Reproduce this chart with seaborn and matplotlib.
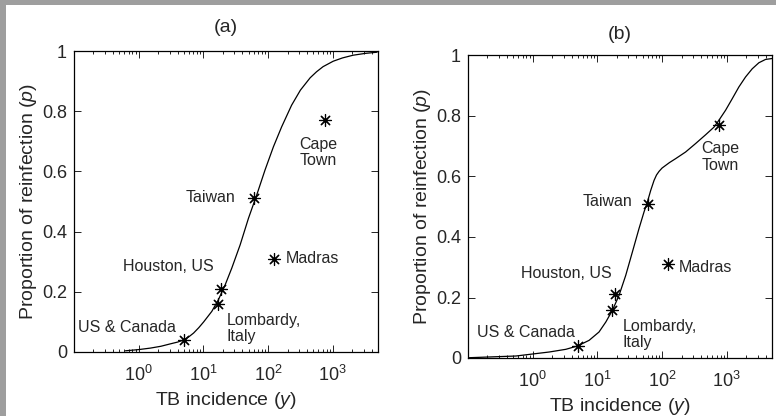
import matplotlib
matplotlib.use("Agg")
import matplotlib.pyplot as plt
import matplotlib.patches as mpatches
from matplotlib.ticker import LogLocator, NullFormatter
import pandas as pd
import seaborn as sns

# observed settings
places = ["US & Canada", "Lombardy,\nItaly", "Houston, US", "Taiwan", "Madras", "Cape\nTown"]
incidence = [5, 17, 19, 60, 125, 750]
reinfection = [0.04, 0.16, 0.21, 0.51, 0.31, 0.77]

# model curve, panel (a)
curve_a_y = [0.625, 1.0, 1.52, 2.2, 3.08, 4.0, 4.96, 6.0, 7.06, 8.5, 10.1, 13.5, 17.1, 21.7,
             27.5, 37.0, 49.7, 66.8, 89.8, 121, 162, 231, 316, 447, 561, 708, 1014, 1413,
             2061, 3162, 4830]
curve_a_p = [0.004, 0.008, 0.013, 0.019, 0.027, 0.033, 0.040, 0.051, 0.063, 0.081, 0.100, 0.135,
             0.174, 0.223, 0.279, 0.356, 0.444, 0.522, 0.605, 0.682, 0.748, 0.820, 0.870, 0.911,
             0.931, 0.948, 0.966, 0.977, 0.986, 0.992, 0.996]

# model curve, panel (b)
curve_b_y = [0.105, 0.551, 1.80, 3.25, 4.92, 7.45, 10.6, 13.5, 17.1, 21.6, 27.4, 34.7, 44.0,
             52.6, 59.3, 66.7, 75.1, 82.0, 89.8, 100, 114, 130, 162, 231, 330, 471, 633, 756,
             958, 1213, 1538, 1950, 2472, 3133, 3972, 5000]
curve_b_p = [0.001, 0.0066, 0.0198, 0.0287, 0.0397, 0.0584, 0.086, 0.119, 0.158, 0.207, 0.273,
             0.350, 0.428, 0.483, 0.516, 0.554, 0.587, 0.605, 0.617, 0.628, 0.637, 0.646, 0.659,
             0.681, 0.709, 0.738, 0.763, 0.786, 0.819, 0.857, 0.896, 0.929, 0.956, 0.976, 0.987,
             0.990]

xticks = [1, 10, 100, 1000]
xticklabels = ["$10^0$", "$10^1$", "$10^2$", "$10^3$"]
yticks = [0, 0.2, 0.4, 0.6, 0.8, 1]
yticklabels = ["0", "0.2", "0.4", "0.6", "0.8", "1"]

sns.set_style("ticks")
plt.rcParams["font.family"] = ["Liberation Sans", "DejaVu Sans"]
plt.rcParams["mathtext.fontset"] = "custom"
plt.rcParams["mathtext.rm"] = "Liberation Sans"
plt.rcParams["mathtext.it"] = "Liberation Sans:italic"

fig = plt.figure(figsize=(7.76, 4.16), dpi=100)
fig.patch.set_facecolor("#9e9e9e")
fig.patches.append(mpatches.Rectangle((6 / 776, 0), 1, 1 - 5 / 416, transform=fig.transFigure,
                                      facecolor="white", edgecolor="none", zorder=-10))

# label offsets in pixels (dx, dy, ha) for each panel
offsets_a = [(-8, 12, "right"), (8, -25, "left"), (-8, 22, "right"),
             (-18, 1, "right"), (11, 0, "left"), (-25, -32, "left")]
offsets_b = [(-3, 13, "right"), (10, -25, "left"), (-4, 21, "right"),
             (-15, 2, "right"), (10, -3, "left"), (-17, -32, "left")]

panels = [
    ("(a)", [74 / 776, 64 / 416, 304 / 776, 301 / 416], curve_a_y, curve_a_p, offsets_a, 14),
    ("(b)", [468 / 776, 58 / 416, 304 / 776, 302.5 / 416], curve_b_y, curve_b_p, offsets_b, 12),
]

obs = pd.DataFrame({"y": incidence, "p": reinfection, "place": places})

for title, rect, cy, cp, offs, tpad in panels:
    ax = fig.add_axes(rect)
    ax.patch.set_alpha(0)
    curve = pd.DataFrame({"y": cy, "p": cp})
    sns.lineplot(data=curve, x="y", y="p", color="black", linewidth=0.9, ax=ax, sort=False)
    sns.scatterplot(data=obs, x="y", y="p", marker=(8, 2, 0), s=75, color="black",
                    linewidth=0.85, ax=ax, zorder=3)
    for (_, row), (dx, dy, ha) in zip(obs.iterrows(), offs):
        ax.annotate(row["place"], xy=(row["y"], row["p"]), xytext=(dx, dy),
                    textcoords="offset pixels", ha=ha, va="center", fontsize=11.5,
                    linespacing=1.1)

    ax.set_xscale("log")
    ax.set_xlim(0.1, 5000)
    ax.set_ylim(0, 1)
    ax.set_xticks(xticks)
    ax.set_xticklabels(xticklabels, fontsize=13)
    ax.xaxis.set_minor_locator(LogLocator(base=10, subs=range(2, 10), numticks=20))
    ax.xaxis.set_minor_formatter(NullFormatter())
    ax.set_yticks(yticks)
    ax.set_yticklabels(yticklabels, fontsize=13)
    ax.tick_params(which="both", direction="in", top=True, right=True, width=0.6, color="black")
    ax.tick_params(axis="y", pad=5)
    ax.tick_params(axis="x", pad=9)
    ax.tick_params(which="major", length=5)
    ax.tick_params(which="minor", length=2.5)
    for sp in ax.spines.values():
        sp.set_linewidth(0.9)
        sp.set_color("black")
    ax.set_xlabel("TB incidence $\\mathit{(y)}$", fontsize=14, labelpad=4)
    ax.set_ylabel("Proportion of reinfection $\\mathit{(p)}$", fontsize=14, labelpad=2)
    ax.set_title(title, fontsize=14, pad=tpad)

fig.savefig("out.png", dpi=100, facecolor=fig.get_facecolor())
